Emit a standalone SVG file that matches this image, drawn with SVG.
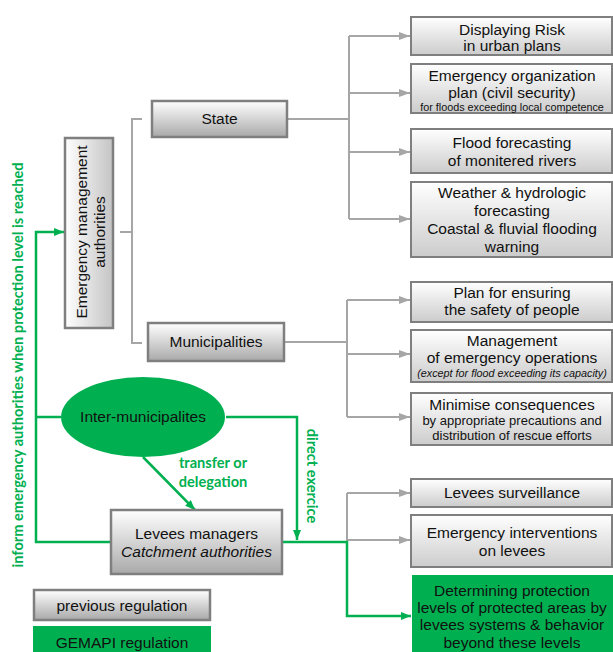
<svg xmlns="http://www.w3.org/2000/svg" width="613" height="652" viewBox="0 0 613 652">
<defs>
  <linearGradient id="gMain" x1="0" y1="0" x2="0" y2="1">
    <stop offset="0" stop-color="#ffffff"/>
    <stop offset="1" stop-color="#a9a9a9"/>
  </linearGradient>
  <linearGradient id="gLight" x1="0" y1="0" x2="0" y2="1">
    <stop offset="0" stop-color="#ffffff"/>
    <stop offset="1" stop-color="#cccccc"/>
  </linearGradient>
  <linearGradient id="gEma" x1="0" y1="0" x2="1" y2="0">
    <stop offset="0" stop-color="#ffffff"/>
    <stop offset="1" stop-color="#c4c4c4"/>
  </linearGradient>
  <marker id="aGray" markerUnits="userSpaceOnUse" markerWidth="11" markerHeight="8" refX="11" refY="4" orient="auto">
    <path d="M0,0 L11,4 L0,8 z" fill="#a6a6a6"/>
  </marker>
  <marker id="aGreen" markerUnits="userSpaceOnUse" markerWidth="10" markerHeight="8" refX="10" refY="4" orient="auto">
    <path d="M0,0 L10,4 L0,8 z" fill="#00b050"/>
  </marker>
</defs>
<style>
  .box { stroke: #7f7f7f; stroke-width: 2.5; fill: url(#gMain); }
  .rbox { stroke: #7f7f7f; stroke-width: 2; fill: url(#gLight); }
  .gbox { fill: #00b050; stroke: none; }
  .t { font-family: "Liberation Sans", Arial, sans-serif; font-size: 15.5px; fill: #111; text-anchor: middle; }
  .s { font-family: "Liberation Sans", Arial, sans-serif; font-size: 10.8px; fill: #111; text-anchor: middle; }
  .m { font-family: "Liberation Sans", Arial, sans-serif; font-size: 13px; fill: #111; text-anchor: middle; }
  .g { font-family: Lato, "Open Sans", sans-serif; font-weight: bold; font-size: 14.6px; fill: #00b050; text-anchor: middle; }
  .gl { fill: none; stroke: #a6a6a6; stroke-width: 2; }
  .grl { fill: none; stroke: #00b050; stroke-width: 2.5; }
</style>

<g id="connectors">
  <!-- EMA bracket -->
  <path class="gl" d="M142,119 H132 V343 H142"/>
  <path class="gl" d="M120,232 H132"/>
  <!-- State fan -->
  <path class="gl" d="M287,119 H349"/>
  <path class="gl" d="M349,36 V219"/>
  <path class="gl" d="M349,36 H410" marker-end="url(#aGray)"/>
  <path class="gl" d="M349,93 H410" marker-end="url(#aGray)"/>
  <path class="gl" d="M349,152 H410" marker-end="url(#aGray)"/>
  <path class="gl" d="M349,219 H410" marker-end="url(#aGray)"/>
  <!-- Municipalities fan -->
  <path class="gl" d="M284,342 H347"/>
  <path class="gl" d="M347,300 V417"/>
  <path class="gl" d="M347,300 H410" marker-end="url(#aGray)"/>
  <path class="gl" d="M347,354 H410" marker-end="url(#aGray)"/>
  <path class="gl" d="M347,417 H410" marker-end="url(#aGray)"/>
  <!-- Levees fan (gray) -->
  <path class="gl" d="M347,493 V541"/>
  <path class="gl" d="M347,493 H410" marker-end="url(#aGray)"/>
  <path class="gl" d="M347,540 H410" marker-end="url(#aGray)"/>
  <!-- green links -->
  <path class="grl" d="M110,542 H36 V232 H64" marker-end="url(#aGreen)"/>
  <path class="grl" d="M36,417 H61"/>
  <path class="grl" d="M226,417 H297 V540" marker-end="url(#aGreen)"/>
  <path class="grl" d="M143,457 L195,510" marker-end="url(#aGreen)"/>
  <path class="grl" d="M282,542 H347 V616 H411" marker-end="url(#aGreen)"/>
  <text class="g" x="213" y="468">transfer or</text>
  <text class="g" x="213" y="487">delegation</text>
  <text class="g" transform="translate(307,476) rotate(90)">direct exercice</text>
  <text class="g" transform="translate(23,365) rotate(-90)">inform emergency authorities when protection level is reached</text>
</g>

<g id="ema">
  <rect x="65" y="138" width="48" height="190" fill="url(#gEma)" stroke="#7f7f7f" stroke-width="2.5"/>
  <text class="t" transform="translate(87,232) rotate(-90)">Emergency management</text>
  <text class="t" transform="translate(105,232) rotate(-90)">authorities</text>
</g>

<g id="state">
  <rect class="box" x="152" y="101" width="135" height="36"/>
  <text class="t" x="219.5" y="124">State</text>
</g>

<g id="municipalities">
  <rect class="box" x="148" y="323" width="136" height="38"/>
  <text class="t" x="216" y="347">Municipalities</text>
</g>

<g id="inter">
  <ellipse cx="143" cy="417" rx="82" ry="40" fill="#00b050"/>
  <text class="t" x="143" y="422">Inter-municipalites</text>
</g>

<g id="levees">
  <rect class="box" x="111" y="510" width="171" height="64"/>
  <text class="t" x="196.5" y="539">Levees managers</text>
  <text class="t" x="196.5" y="557" font-style="italic">Catchment authorities</text>
</g>

<g id="r1">
  <rect class="rbox" x="411" y="17" width="201" height="38"/>
  <text class="t" x="512" y="35">Displaying Risk</text>
  <text class="t" x="512" y="51">in urban plans</text>
</g>
<g id="r2">
  <rect class="rbox" x="411" y="64" width="201" height="49"/>
  <text class="t" x="512" y="81">Emergency organization</text>
  <text class="t" x="512" y="98">plan (civil security)</text>
  <text class="s" x="512" y="111">for floods exceeding local competence</text>
</g>
<g id="r3">
  <rect class="rbox" x="411" y="129" width="201" height="44"/>
  <text class="t" x="512" y="148">Flood forecasting</text>
  <text class="t" x="512" y="166">of monitered rivers</text>
</g>
<g id="r4">
  <rect class="rbox" x="411" y="182" width="201" height="75"/>
  <text class="t" x="512" y="198">Weather &amp; hydrologic</text>
  <text class="t" x="512" y="216">forecasting</text>
  <text class="t" x="512" y="234">Coastal &amp; fluvial flooding</text>
  <text class="t" x="512" y="252">warning</text>
</g>
<g id="r5">
  <rect class="rbox" x="411" y="282" width="201" height="40"/>
  <text class="t" x="512" y="298">Plan for ensuring</text>
  <text class="t" x="512" y="315">the safety of people</text>
</g>
<g id="r6">
  <rect class="rbox" x="411" y="330" width="201" height="52"/>
  <text class="t" x="512" y="346">Management</text>
  <text class="t" x="512" y="363">of emergency operations</text>
  <text class="s" x="512" y="377" font-style="italic">(except for flood exceeding its capacity)</text>
</g>
<g id="r7">
  <rect class="rbox" x="411" y="393" width="201" height="52"/>
  <text class="t" x="512" y="410">Minimise consequences</text>
  <text class="m" x="512" y="425">by appropriate precautions and</text>
  <text class="m" x="512" y="440">distribution of rescue efforts</text>
</g>
<g id="r8">
  <rect class="rbox" x="411" y="479" width="201" height="28"/>
  <text class="t" x="512" y="498">Levees surveillance</text>
</g>
<g id="r9">
  <rect class="rbox" x="411" y="515" width="201" height="52"/>
  <text class="t" x="512" y="538">Emergency interventions</text>
  <text class="t" x="512" y="556">on levees</text>
</g>
<g id="r10">
  <rect class="gbox" x="412" y="575" width="201" height="80"/>
  <text class="t" x="512" y="596">Determining protection</text>
  <text class="t" x="512" y="613">levels of protected areas by</text>
  <text class="t" x="512" y="630">levees systems &amp; behavior</text>
  <text class="t" x="512" y="648">beyond these levels</text>
</g>

<g id="legend-previous">
  <rect class="box" x="34" y="590" width="176" height="30"/>
  <text class="t" x="122" y="611">previous regulation</text>
</g>
<g id="legend-gemapi">
  <rect class="gbox" x="33" y="626" width="178" height="30"/>
  <text class="t" x="122" y="648">GEMAPI regulation</text>
</g>
</svg>
